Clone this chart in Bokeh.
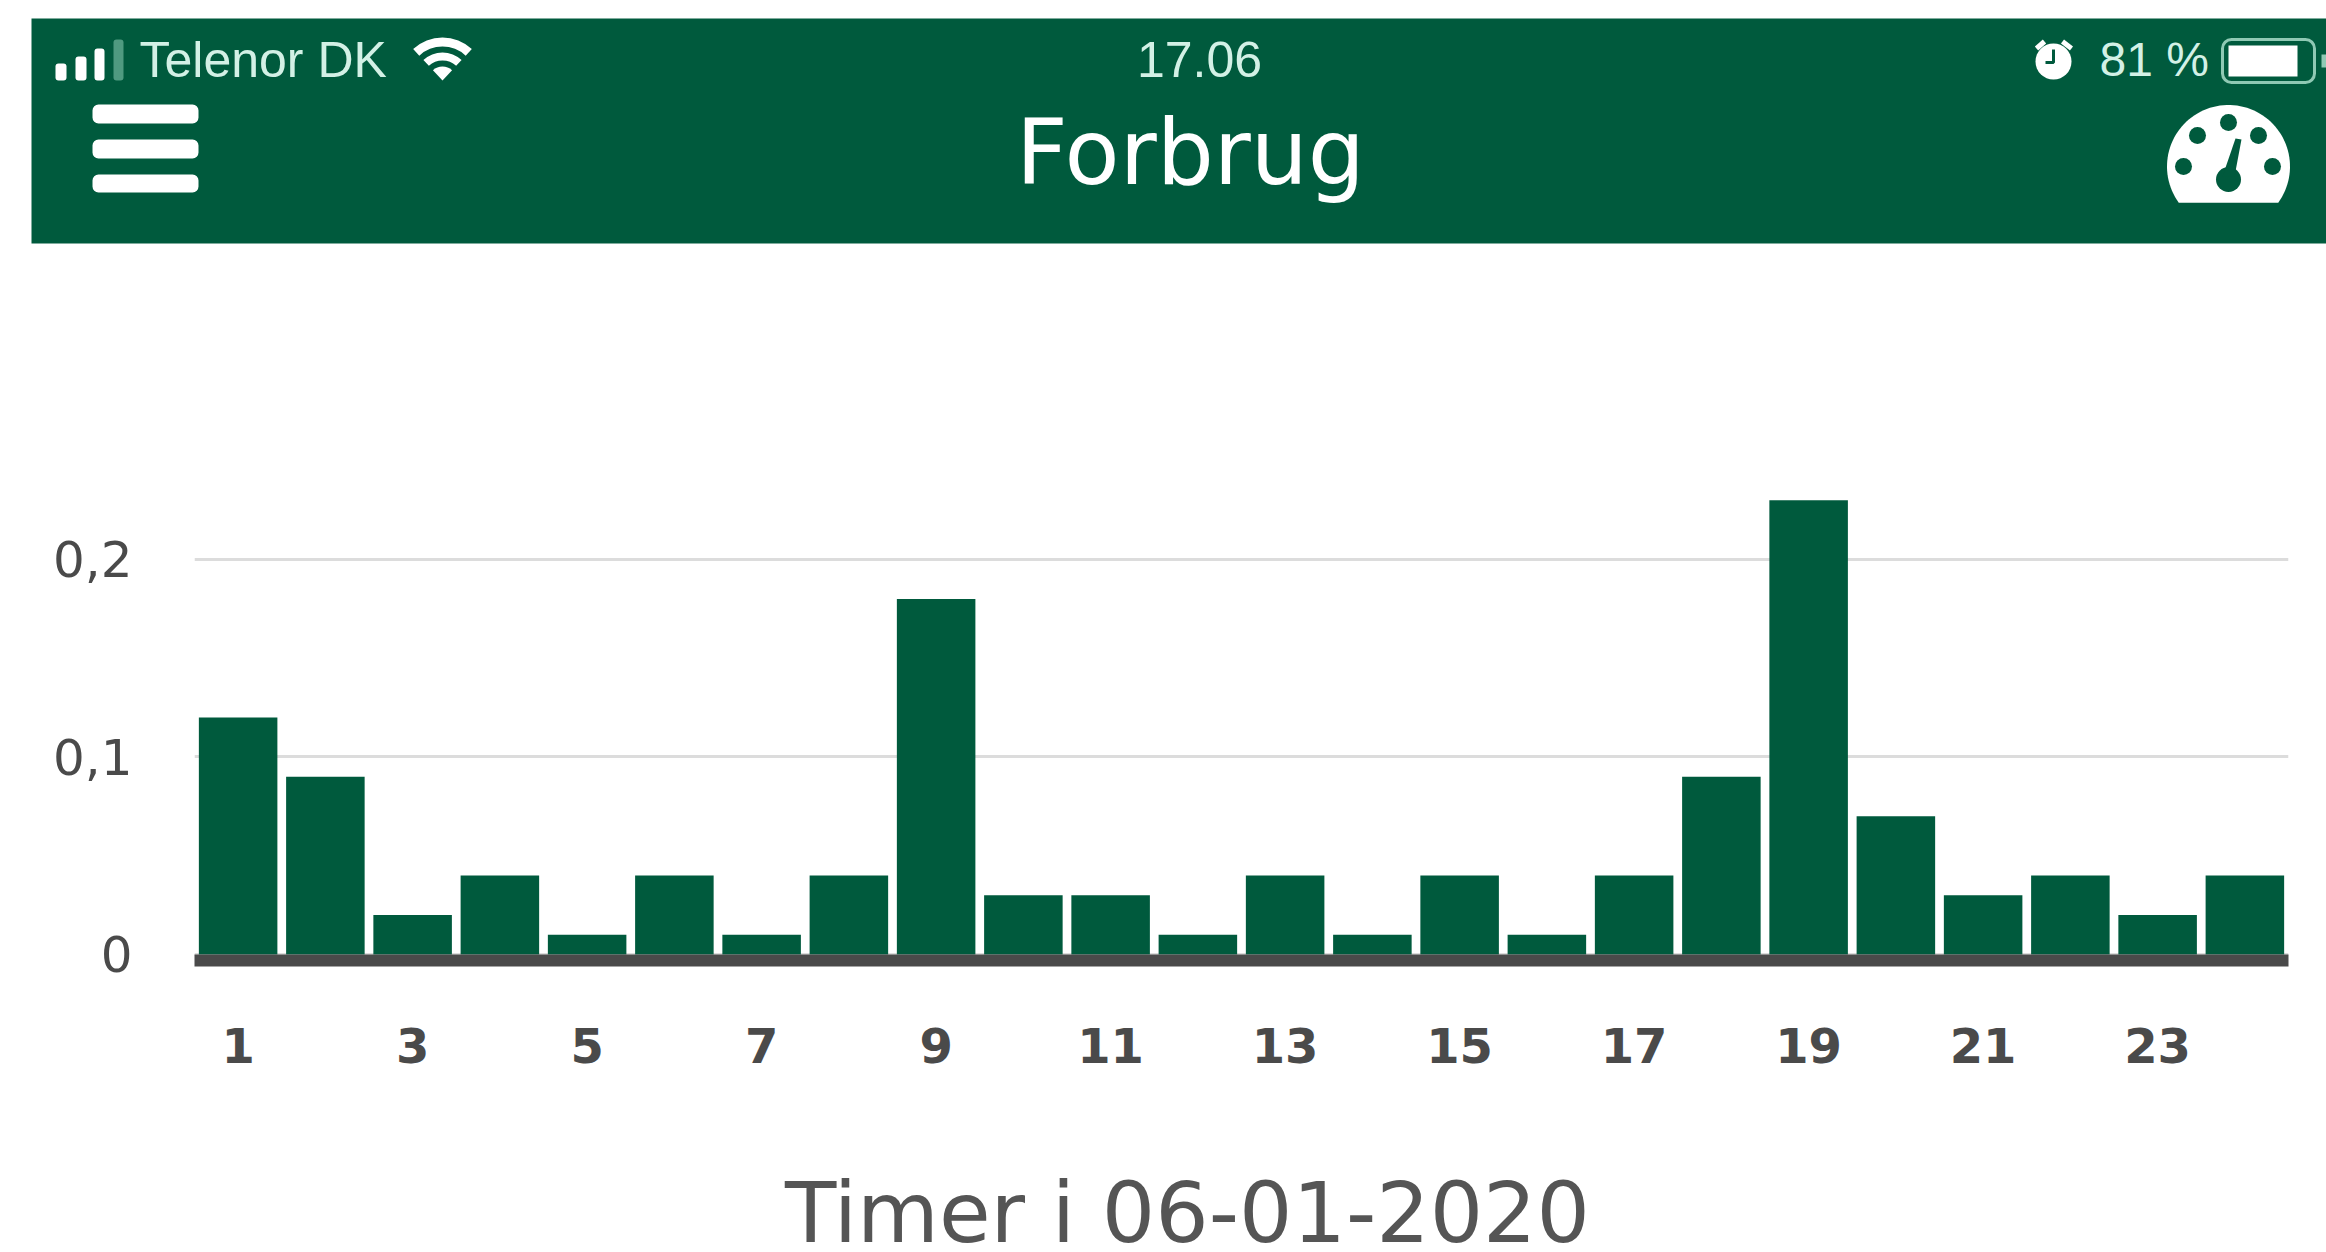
import numpy as np
from bokeh.core.properties import value
from bokeh.embed import file_html
from bokeh.models import FixedTicker, Range1d
from bokeh.plotting import figure
from bokeh.resources import INLINE

hours = list(range(1, 25))
usage = [0.12, 0.09, 0.02, 0.04, 0.01, 0.04, 0.01, 0.04, 0.18, 0.03, 0.03, 0.01,
         0.04, 0.01, 0.04, 0.01, 0.04, 0.09, 0.23, 0.07, 0.03, 0.04, 0.02, 0.04]
x_ticks = list(range(1, 24, 2))
y_ticks = [0, 0.1, 0.2]
y_labels = {0: "0", 0.1: "0,1", 0.2: "0,2"}
screen_title = "Forbrug"
carrier = "Telenor DK"
clock = "17.06"
battery = "81 %"
axis_title = "Timer i 06-01-2020"

GREEN = "#005a3d"
PALE = "#d3f1e6"
INK = "#4a4a4a"


def blank(height, y0, y1):
    f = figure(width=2326, height=height, output_backend="svg", toolbar_location=None,
               x_range=Range1d(0, 2326), y_range=Range1d(y1, y0),
               min_border=0, min_border_left=0, min_border_right=0, min_border_top=0, min_border_bottom=0)
    f.axis.visible = False
    f.xgrid.visible = False
    f.ygrid.visible = False
    f.outline_line_color = None
    return f


# Header band, drawn in page pixels
h = blank(260, 0, 260)
h.quad(left=[31], right=[2326], top=[18], bottom=[243], fill_color=GREEN, line_color=None)

# menu icon
h.quad(left=[92] * 3, right=[198] * 3, top=[104, 139, 174], bottom=[123, 158, 192],
       fill_color="white", line_color=None, border_radius=6)
# signal bars
h.quad(left=[55, 75, 94, 113], right=[66, 86, 104, 123], top=[63, 56, 48, 39], bottom=[80] * 4,
       fill_color=["white", "white", "white", "#4f9a80"], line_color=None, border_radius=3)
# wifi
for r0, r1 in [(0, 14), (20, 28), (34, 43)]:
    h.annular_wedge(x=[442], y=[80], inner_radius=r0, outer_radius=r1,
                    start_angle=np.radians(47), end_angle=np.radians(133),
                    fill_color="white", line_color=None)
# alarm clock
h.circle(x=[2053], y=[61], radius=18, fill_color="white", line_color=None)
h.line(x=[2036, 2044], y=[48, 41], line_color="white", line_width=5)
h.line(x=[2062, 2071], y=[41, 48], line_color="white", line_width=5)
h.line(x=[2053, 2053, 2045], y=[49, 62, 62], line_color=GREEN, line_width=3)
# battery
h.quad(left=[2222], right=[2314], top=[39], bottom=[82], fill_color=None,
       line_color="#8fc9b4", line_width=3, border_radius=9)
h.quad(left=[2228], right=[2297], top=[45], bottom=[76], fill_color="white", line_color=None)
h.quad(left=[2321], right=[2326], top=[54], bottom=[67], fill_color="#8fc9b4", line_color=None)
# gauge
t = np.radians(np.linspace(-36, 216, 80))
h.patch(x=2228 + 61.5 * np.cos(t), y=166 - 61.5 * np.sin(t), fill_color="white", line_color=None)
h.circle(x=[2183, 2197, 2228, 2258, 2272], y=[166, 135, 122, 135, 166], radius=8.5,
         fill_color=GREEN, line_color=None)
h.circle(x=[2228], y=[179], radius=12.5, fill_color=GREEN, line_color=None)
h.patch(x=[2222, 2234, 2241, 2235], y=[176, 176, 139, 138], fill_color=GREEN, line_color=None)

h.text(x=[139], y=[59], text=[carrier], text_font=value("Liberation Sans"), text_font_size="50px",
       text_color=PALE, text_baseline="alphabetic")
h.text(x=[1199], y=[59], text=[clock], text_font=value("Liberation Sans"), text_font_size="50px",
       text_color=PALE, text_align="center", text_baseline="alphabetic")
h.text(x=[2099], y=[59], text=[battery], text_font=value("Liberation Sans"), text_font_size="48px",
       text_color=PALE, text_baseline="alphabetic")
h.text(x=[1190], y=[152], text=[screen_title], text_font=value("DejaVu Sans"), text_font_size="90px",
       text_color="white", text_align="center", text_baseline="alphabetic")

# Bar chart
p = figure(width=2326, height=850, output_backend="svg", toolbar_location=None,
           x_range=Range1d(0.5, 24.5), y_range=Range1d(-0.00304, 0.24),
           min_border_left=194, min_border_right=38, min_border_top=220, min_border_bottom=150)
p.outline_line_color = None
p.xgrid.visible = False
p.ygrid.grid_line_color = "#dcdcdc"
p.ygrid.grid_line_width = 3
p.ygrid.ticker = FixedTicker(ticks=y_ticks)

p.vbar(x=hours, top=usage, bottom=0, width=0.9, fill_color=GREEN, line_color=None)

p.xaxis.ticker = FixedTicker(ticks=x_ticks)
p.xaxis.axis_line_color = INK
p.xaxis.axis_line_width = 12
p.xaxis.major_tick_line_color = None
p.xaxis.minor_tick_line_color = None
p.xaxis.major_label_text_font = "DejaVu Sans"
p.xaxis.major_label_text_font_style = "bold"
p.xaxis.major_label_text_font_size = "48px"
p.xaxis.major_label_text_color = INK
p.xaxis.major_label_standoff = 61

p.yaxis.ticker = FixedTicker(ticks=y_ticks)
p.yaxis.major_label_overrides = y_labels
p.yaxis.axis_line_color = None
p.yaxis.major_tick_line_color = None
p.yaxis.minor_tick_line_color = None
p.yaxis.major_label_text_font = "DejaVu Sans"
p.yaxis.major_label_text_font_size = "50px"
p.yaxis.major_label_text_color = INK
p.yaxis.major_label_standoff = 56

# Axis title, centred on the page rather than on the plot frame
f = blank(142, 1110, 1252)
f.text(x=[1187], y=[1212], text=[axis_title], text_font=value("DejaVu Sans"), text_font_size="84px",
       text_color="#555555", text_align="center", text_baseline="alphabetic")

open("out.html", "w").write(file_html((h, p, f), INLINE))
